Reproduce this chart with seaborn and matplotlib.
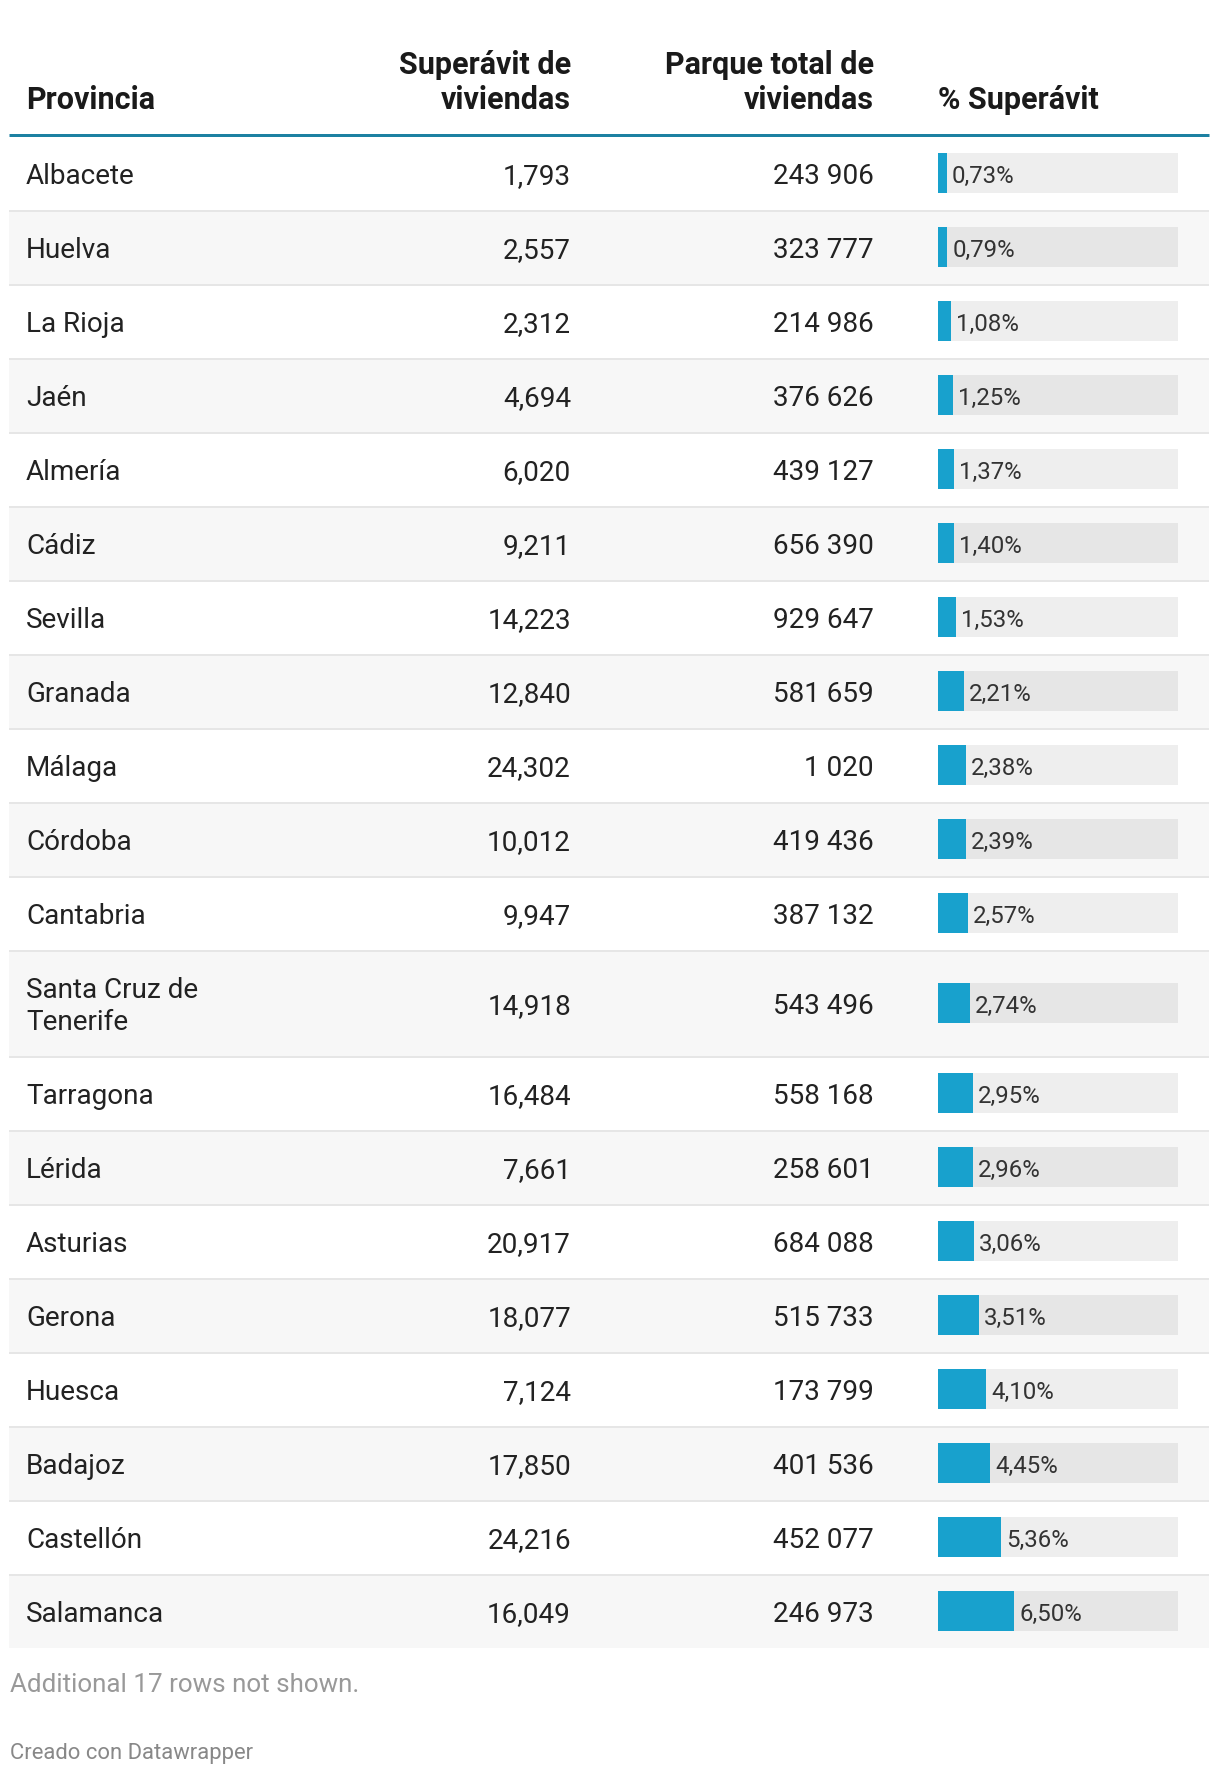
#!/usr/bin/env python3
"""Tabla de superávit de viviendas por provincia (estilo Datawrapper)."""

import matplotlib.pyplot as plt
import matplotlib.patches as mpatches
import numpy as np
import seaborn as sns

# --- datos ---
provincias = ["Albacete", "Huelva", "La Rioja", "Jaén", "Almería", "Cádiz",
              "Sevilla", "Granada", "Málaga", "Córdoba", "Cantabria",
              "Santa Cruz de\nTenerife", "Tarragona", "Lérida", "Asturias",
              "Gerona", "Huesca", "Badajoz", "Castellón", "Salamanca"]
superavit = [1793, 2557, 2312, 4694, 6020, 9211, 14223, 12840, 24302, 10012,
             9947, 14918, 16484, 7661, 20917, 18077, 7124, 17850, 24216, 16049]
parque = [243906, 323777, 214986, 376626, 439127, 656390, 929647, 581659,
          1020, 419436, 387132, 543496, 558168, 258601, 684088, 515733,
          173799, 401536, 452077, 246973]
pct_superavit = [0.73, 0.79, 1.08, 1.25, 1.37, 1.40, 1.53, 2.21, 2.38, 2.39,
                 2.57, 2.74, 2.95, 2.96, 3.06, 3.51, 4.10, 4.45, 5.36, 6.50]
pct_max = 20.5  # maximo de la columna (incluye filas no mostradas)
cabeceras = ["Provincia", "Superávit de\nviviendas", "Parque total de\nviviendas", "% Superávit"]
nota = "Additional 17 rows not shown."
credito = "Creado con Datawrapper"

# --- estilo ---
W, H = 1220, 1774
sns.set_style("white")
plt.rcParams["font.family"] = ["Roboto", "DejaVu Sans"]

BLUE = "#18a1cd"
RULE = "#1d81a2"
TXT = "#222222"
PX = 72 / 100  # puntos por pixel a dpi 100

fig = plt.figure(figsize=(W / 100, H / 100), dpi=100)
ax = fig.add_axes([0, 0, 1, 1])
ax.set_xlim(0, W)
ax.set_ylim(H, 0)
ax.axis("off")

left, right = 9, 1209
col_x = [26, 571, 874, 938]
col_ha = ["left", "right", "right", "left"]
bar_w = 240

# cabecera
fs_head = 22
for x, ha, lab in zip(col_x, col_ha, cabeceras):
    lines = lab.split("\n")
    for k, line in enumerate(reversed(lines)):
        ax.text(x, 109 - 35 * k, line, ha=ha, va="baseline", fontsize=fs_head,
                fontweight="bold", color="#1a1a1a")
ax.plot([left, right], [135.5, 135.5], color=RULE, lw=3 * PX, solid_capstyle="butt")

# filas
fs_row = 20.1
cap = 0.711 * fs_row / PX / 2
nlines = np.array([p.count("\n") + 1 for p in provincias])
heights = 74 + 32 * (nlines - 1)
tops = 137 + np.concatenate([[0], np.cumsum(heights)[:-1]])
centers = tops + heights / 2

for i, (prov, sv, pq) in enumerate(zip(provincias, superavit, parque)):
    top, h, c = tops[i], heights[i], centers[i]
    if i % 2 == 1:
        ax.add_patch(mpatches.Rectangle((left, top), right - left, h,
                                        facecolor="#f7f7f7", lw=0, zorder=0))
    if i > 0:
        ax.plot([left, right], [top + 1, top + 1], color="#e6e6e6",
                lw=2 * PX, solid_capstyle="butt", zorder=1)
    lines = prov.split("\n")
    off = (len(lines) - 1) * 16
    for k, line in enumerate(lines):
        ax.text(col_x[0], c - off + 32 * k + cap, line, ha="left", va="baseline",
                fontsize=fs_row, color=TXT)
    ax.text(col_x[1], c + cap, f"{sv:,}", ha="right", va="baseline",
            fontsize=fs_row, color=TXT)
    ax.text(col_x[2], c + cap, f"{pq:,}".replace(",", " "), ha="right",
            va="baseline", fontsize=fs_row, color=TXT)

# barras
bax = fig.add_axes([col_x[3] / W, 0, bar_w / W, 1])
bar_h = 40 / np.min(np.diff(centers))
sns.barplot(x=[pct_max] * len(centers), y=centers, orient="h", native_scale=True,
            width=bar_h, color="black", alpha=0.065, errorbar=None,
            linewidth=0, ax=bax)
sns.barplot(x=pct_superavit, y=centers, orient="h", native_scale=True,
            width=bar_h, color=BLUE, saturation=1, errorbar=None,
            linewidth=0, ax=bax)
bax.set_xlim(0, pct_max)
bax.set_ylim(H, 0)
bax.axis("off")
bax.patch.set_alpha(0)

fs_lab = 17.3
cap_lab = 0.711 * fs_lab / PX / 2
for p, c in zip(pct_superavit, centers):
    bax.annotate(f"{p:.2f}%".replace(".", ","), xy=(p, c + cap_lab),
                 xytext=(5 * PX, 0), textcoords="offset points",
                 ha="left", va="baseline", fontsize=fs_lab, color="#333333")

# pie
ax.text(10, 1692, nota, ha="left", va="baseline", fontsize=18.7, color="#999999")
ax.text(10, 1759, credito, ha="left", va="baseline", fontsize=15.8, color="#888888")

fig.savefig("out.png", dpi=100, facecolor="white")
